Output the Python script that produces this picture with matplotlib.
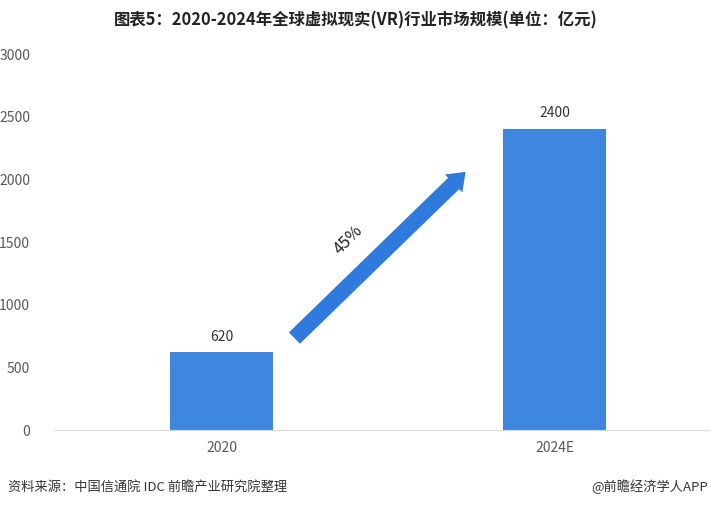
import matplotlib
matplotlib.use("Agg")
import matplotlib.pyplot as plt

plt.rcParams['font.family'] = ['Noto Sans CJK SC', 'DejaVu Sans']

# data
categories = ['2020', '2024E']
values = [620, 2400]
growth_label = '45%'
yticks = [0, 500, 1000, 1500, 2000, 2500, 3000]

BAR_BLUE = '#3F86E0'
ARROW_BLUE = '#2F7BDD'
GREY = '#595959'

fig = plt.figure(figsize=(7.11, 5.07), dpi=100)
ax = fig.add_axes([55/711, 1 - 430/507, 656/711, 376/507])

x = range(len(categories))
bars = ax.bar(x, values, width=0.31, color=BAR_BLUE, zorder=2)
for xi, v in zip(x, values):
    ax.text(xi, v + 70, str(v), ha='center', va='bottom', fontsize=10, color='#333333')

ax.set_xlim(-0.5, 1.47)
ax.set_ylim(0, 3000)
ax.set_yticks(yticks)
ax.set_xticks(list(x))
ax.set_xticklabels(categories)
ax.tick_params(axis='both', length=0, labelsize=10, colors=GREY)
ax.tick_params(axis='x', pad=8)
ax.tick_params(axis='y', pad=18)
for s in ['top', 'right', 'left']:
    ax.spines[s].set_visible(False)
ax.spines['bottom'].set_color('#D9D9D9')

# growth arrow
ax.annotate('', xy=(0.739, 2075), xytext=(0.213, 718),
            arrowprops=dict(arrowstyle='simple,head_width=1.5,head_length=1.0,tail_width=0.95',
                            color=ARROW_BLUE, lw=0, mutation_scale=12))
ax.text(0.381, 1516, growth_label, rotation=45, ha='center', va='center',
        fontsize=12, color='#222222')

fig.text(0.5, 1 - 20/507, '图表5：2020-2024年全球虚拟现实(VR)行业市场规模(单位：亿元)',
         ha='center', va='center', fontsize=11.8, fontweight='bold', color='#222222')
fig.text(8/711, 1 - 487/507, '资料来源：中国信通院 IDC 前瞻产业研究院整理',
         ha='left', va='center', fontsize=9.5, color='#333333')
fig.text(708/711, 1 - 487/507, '@前瞻经济学人APP',
         ha='right', va='center', fontsize=9.5, color='#333333')

fig.savefig('out.png', dpi=100)
